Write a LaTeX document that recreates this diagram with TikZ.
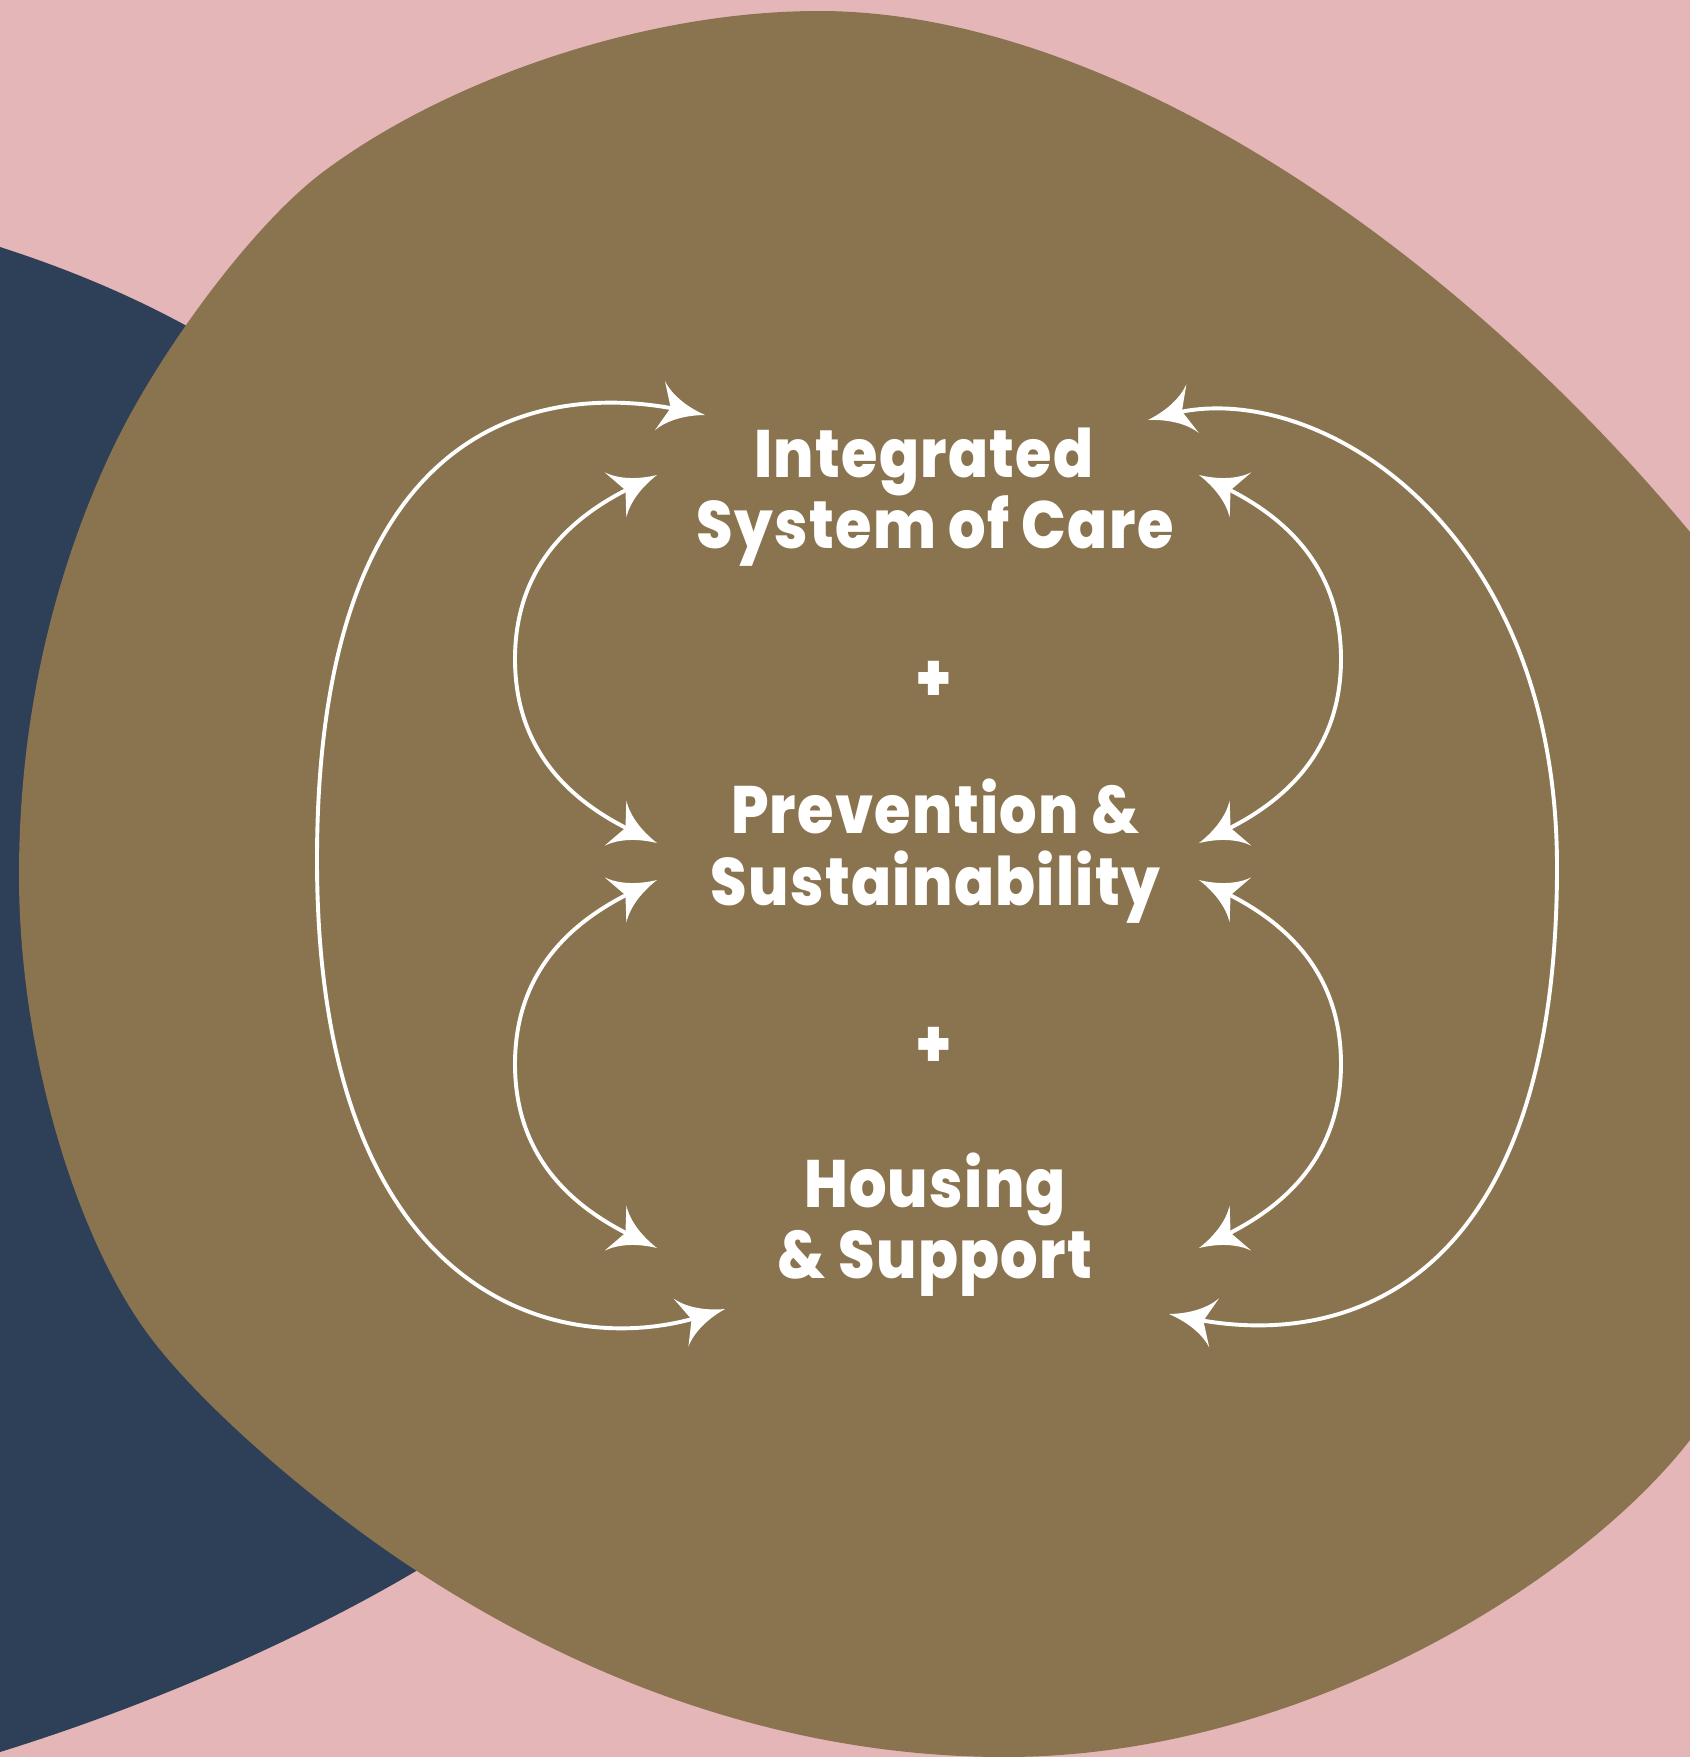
\documentclass[tikz,border=0pt]{standalone}
\usepackage{fontspec}
\newfontfamily\labelfont{Poppins ExtraBold}[FakeStretch=0.88, LetterSpace=2.0]
\usetikzlibrary{arrows.meta}
\definecolor{blush}{HTML}{E4B6B7}
\definecolor{umber}{HTML}{8A7450}
\definecolor{slate}{HTML}{2E4057}

% swept arrow head with concave flanks and a shallow notch
\pgfdeclarearrow{
  name = Swept,
  parameters = {\the\pgfarrowlength,\the\pgfarrowwidth,\the\pgfarrowinset},
  setup code = {
    \pgfarrowssettipend{0pt}
    \pgfarrowssetbackend{-\pgfarrowlength}
    \pgfarrowssetlineend{-.55\pgfarrowlength}
    \pgfarrowssavethe\pgfarrowlength
    \pgfarrowssavethe\pgfarrowwidth
    \pgfarrowssavethe\pgfarrowinset
  },
  drawing code = {
    \pgfpathmoveto{\pgfqpoint{0pt}{0pt}}
    \pgfpathcurveto{\pgfpoint{-.45\pgfarrowlength}{.09\pgfarrowwidth}}
                   {\pgfpoint{-.8\pgfarrowlength}{.27\pgfarrowwidth}}
                   {\pgfpoint{-\pgfarrowlength}{.5\pgfarrowwidth}}
    \pgfpathlineto{\pgfpoint{-\pgfarrowlength+\pgfarrowinset}{0pt}}
    \pgfpathlineto{\pgfpoint{-\pgfarrowlength}{-.5\pgfarrowwidth}}
    \pgfpathcurveto{\pgfpoint{-.8\pgfarrowlength}{-.27\pgfarrowwidth}}
                   {\pgfpoint{-.45\pgfarrowlength}{-.09\pgfarrowwidth}}
                   {\pgfqpoint{0pt}{0pt}}
    \pgfpathclose
    \pgfusepathqfill
  },
  defaults = {length=46pt, width=50pt, inset=11pt}
}

\begin{document}
\begin{tikzpicture}[x=1pt,y=-1pt,
  heading/.style={font={\labelfont\fontsize{67pt}{72pt}\selectfont},
    text=white, inner sep=0pt, anchor=base},
  twoway/.style={draw=white, line width=3.9pt, Swept-Swept}]

\useasboundingbox (0,0) rectangle (1690,1757);
\clip (0,0) rectangle (1690,1757);

% backdrop
\fill[blush] (0,0) rectangle (1690,1757);

% dark blob on the left
\fill[slate] (0,247) .. controls (90,276) and (200,322) .. (300,400)
  -- (620,900) -- (480,1530)
  .. controls (380,1600) and (200,1690) .. (0,1752) -- cycle;

% large brown blob
\fill[umber] (819,11)
  .. controls (1100,11) and (1440,232) .. (1690,532)
  .. controls (1765,622) and (1815,800) .. (1815,1000)
  .. controls (1815,1200) and (1760,1350) .. (1690,1440)
  .. controls (1580,1582) and (1300,1757) .. (1005,1757)
  .. controls (800,1757) and (600,1690) .. (420,1573)
  .. controls (312,1503) and (195,1400) .. (145,1330)
  .. controls (75,1232) and (19,1050) .. (19,875)
  .. controls (19,690) and (67,545) .. (112,450)
  .. controls (157,355) and (251,226) .. (323,172)
  .. controls (443,82) and (640,11) .. cycle;

% labels
\node[heading] (isc1) at (924,477) {Integrated};
\node[heading] (isc2) at (935,548) {System of Care};
\node[heading] (plus1) at (934,701) {+};
\node[heading] (ps1) at (935.5,833) {Prevention \&};
\node[heading] (ps2) at (935.5,905) {Sustainability};
\node[heading] (plus2) at (934,1067) {+};
\node[heading] (hs1) at (935,1207) {Housing};
\node[heading] (hs2) at (935,1278) {\& Support};

% arrow ends beside the labels
\coordinate (oLt) at (705,415);
\coordinate (oLb) at (725,1309);
\coordinate (oRt) at (1148,420);
\coordinate (oRb) at (1169,1314);
\coordinate (iL1t) at (657,475);
\coordinate (iL1b) at (657,843);
\coordinate (iL2t) at (657,880);
\coordinate (iL2b) at (657,1248);
\coordinate (iR1t) at (1199,475);
\coordinate (iR1b) at (1199,843);
\coordinate (iR2t) at (1199,880);
\coordinate (iR2b) at (1199,1248);

% outer loops
\draw[twoway] (oLt) .. controls (560,385) and (317,400) .. (317,860)
  .. controls (317,1300) and (560,1360) .. (oLb);
\draw[twoway] (oRt) .. controls (1312,378) and (1557,520) .. (1557,867)
  .. controls (1557,1280) and (1351,1350) .. (oRb);

% inner loops
\draw[twoway] (iL1t) .. controls (580,512) and (515,560) .. (515,659)
  .. controls (515,758) and (580,806) .. (iL1b);
\draw[twoway] (iL2t) .. controls (580,917) and (515,965) .. (515,1064)
  .. controls (515,1163) and (580,1211) .. (iL2b);
\draw[twoway] (iR1t) .. controls (1276,512) and (1341,560) .. (1341,659)
  .. controls (1341,758) and (1276,806) .. (iR1b);
\draw[twoway] (iR2t) .. controls (1276,917) and (1341,965) .. (1341,1064)
  .. controls (1341,1163) and (1276,1211) .. (iR2b);

\end{tikzpicture}
\end{document}
